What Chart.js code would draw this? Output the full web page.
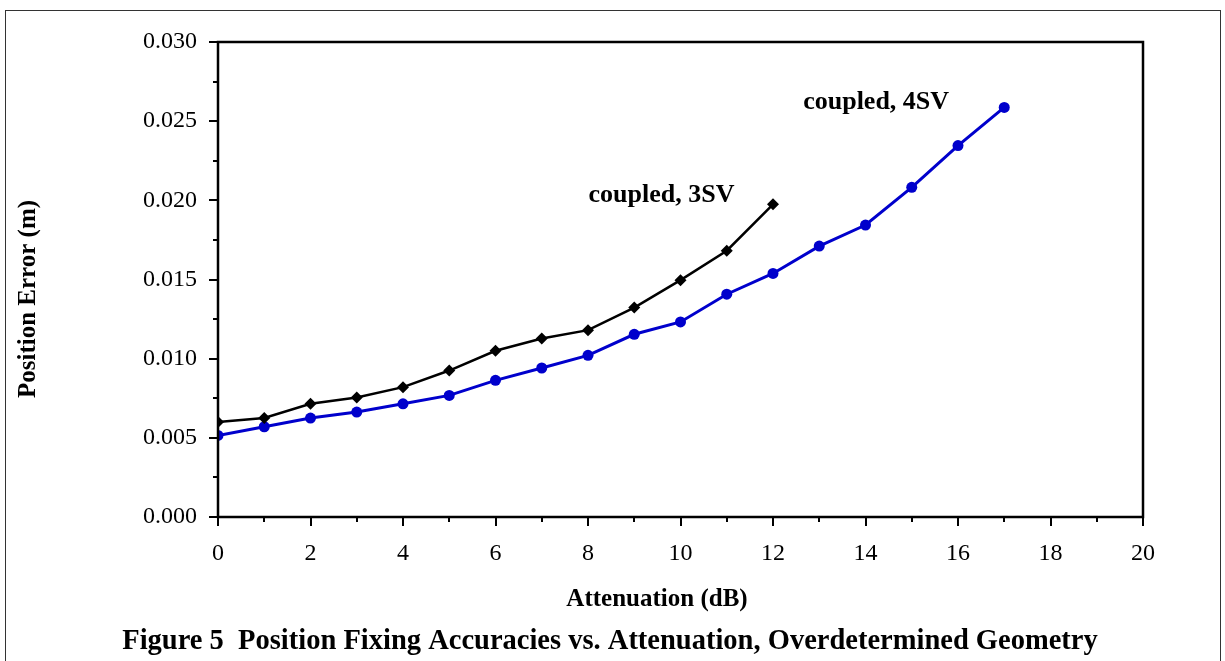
<!DOCTYPE html>
<html>
<head>
<meta charset="utf-8">
<script src="https://cdn.jsdelivr.net/npm/chart.js@4.4.1/dist/chart.umd.min.js"></script>
<style>
  html, body { margin: 0; padding: 0; background: #fff; }
  #wrap { width: 1225px; height: 661px; position: relative; }
</style>
</head>
<body>
<div id="wrap"><canvas id="grafico" width="1225" height="661"></canvas></div>
<script>
// dados
const atenuacao3 = [0, 1, 2, 3, 4, 5, 6, 7, 8, 9, 10, 11, 12];
const erro3SV = [0.0060, 0.00625, 0.00715, 0.00755, 0.0082, 0.00925, 0.0105, 0.01127, 0.0118, 0.01323, 0.01496, 0.01682, 0.01975];

const atenuacao4 = [0, 1, 2, 3, 4, 5, 6, 7, 8, 9, 10, 11, 12, 13, 14, 15, 16, 17];
const erro4SV = [0.00515, 0.0057, 0.00625, 0.00663, 0.00715, 0.00768, 0.00863, 0.00941, 0.01021, 0.01154, 0.01232, 0.01407, 0.01538, 0.01711, 0.01844, 0.02082, 0.02346, 0.02587];

const rotulos = [
    { texto: 'coupled, 3SV', x: 9.59, y: 0.0199 },
    { texto: 'coupled, 4SV', x: 14.23, y: 0.0258 }
];

const serif = '"Liberation Serif", "Times New Roman", serif';

// caixa, marcas, títulos e legenda da figura
const moldura = {
    id: 'moldura',
    afterDraw(chart) {
        const { ctx, chartArea: a, scales: { x, y } } = chart;
        ctx.save();

        // moldura externa
        ctx.strokeStyle = '#333';
        ctx.lineWidth = 1;
        ctx.strokeRect(5.5, 10.5, 1215, 700);

        // caixa do gráfico
        ctx.strokeStyle = '#000';
        ctx.lineWidth = 2.5;
        ctx.strokeRect(a.left, a.top, a.right - a.left, a.bottom - a.top);

        // marcas do eixo x
        ctx.lineWidth = 2;
        ctx.beginPath();
        for (let v = 0; v <= 20; v++) {
            const px = Math.round(x.getPixelForValue(v));
            const len = v % 2 === 0 ? 9 : 5;
            ctx.moveTo(px, a.bottom);
            ctx.lineTo(px, a.bottom + len);
        }
        // marcas do eixo y
        for (let i = 0; i <= 12; i++) {
            const py = Math.round(y.getPixelForValue(i * 0.0025));
            const len = i % 2 === 0 ? 9 : 5;
            ctx.moveTo(a.left, py);
            ctx.lineTo(a.left - len, py);
        }
        ctx.stroke();

        ctx.fillStyle = '#000';
        ctx.textAlign = 'center';
        ctx.textBaseline = 'alphabetic';

        // título do eixo x
        ctx.font = 'bold 25px ' + serif;
        ctx.fillText('Attenuation (dB)', 657, 606);

        // título do eixo y
        ctx.save();
        ctx.translate(35, 299);
        ctx.rotate(-Math.PI / 2);
        ctx.fillText('Position Error (m)', 0, 0);
        ctx.restore();

        // rótulos das curvas
        ctx.font = 'bold 26px ' + serif;
        rotulos.forEach(r => {
            ctx.fillText(r.texto, x.getPixelForValue(r.x), y.getPixelForValue(r.y));
        });

        // legenda da figura
        ctx.font = 'bold 28.5px ' + serif;
        ctx.fillText('Figure 5  Position Fixing Accuracies vs. Attenuation, Overdetermined Geometry', 610, 649);

        ctx.restore();
    }
};

const ctx = document.getElementById('grafico').getContext('2d');
new Chart(ctx, {
    type: 'line',
    data: {
        datasets: [{
            label: 'coupled, 3SV',
            data: atenuacao3.map((v, i) => ({ x: v, y: erro3SV[i] })),
            borderColor: '#000',
            backgroundColor: '#000',
            borderWidth: 2.5,
            pointStyle: 'rectRot',
            pointRadius: 6,
            pointBorderWidth: 0,
            tension: 0
        }, {
            label: 'coupled, 4SV',
            data: atenuacao4.map((v, i) => ({ x: v, y: erro4SV[i] })),
            borderColor: '#0000cc',
            backgroundColor: '#0000cc',
            borderWidth: 3,
            pointStyle: 'circle',
            pointRadius: 5.5,
            pointBorderWidth: 0,
            tension: 0
        }]
    },
    options: {
        responsive: false,
        animation: false,
        layout: { padding: { left: 0, right: 82, top: 42, bottom: 0 } },
        plugins: {
            legend: { display: false },
            tooltip: { enabled: false }
        },
        scales: {
            x: {
                type: 'linear',
                min: 0,
                max: 20,
                afterFit: s => { s.height = 144; },
                grid: { display: false, drawTicks: false },
                border: { display: false },
                ticks: {
                    stepSize: 2,
                    padding: 22,
                    color: '#000',
                    font: { family: serif, size: 24 }
                }
            },
            y: {
                min: 0,
                max: 0.03,
                afterFit: s => { s.width = 218; },
                grid: { display: false, drawTicks: false },
                border: { display: false },
                ticks: {
                    stepSize: 0.005,
                    padding: 21,
                    color: '#000',
                    font: { family: serif, size: 24 },
                    callback: v => v.toFixed(3)
                }
            }
        }
    },
    plugins: [moldura]
});
</script>
</body>
</html>
